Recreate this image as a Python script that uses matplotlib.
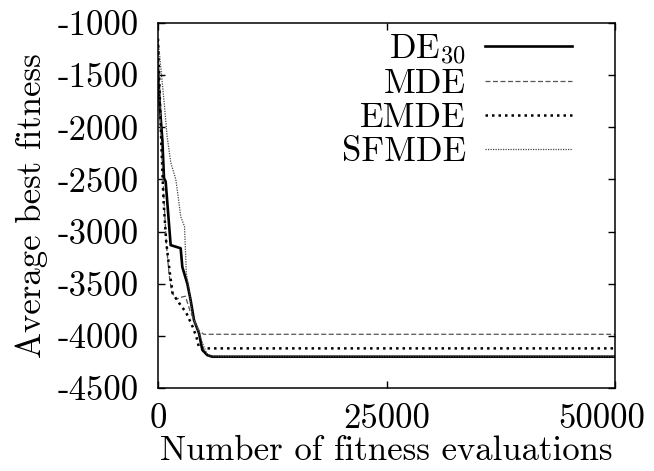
import matplotlib
matplotlib.use("Agg")
import matplotlib.pyplot as plt
import matplotlib.transforms as mtransforms

plt.rcParams['font.family'] = ['cmr10', 'DejaVu Serif']
plt.rcParams['mathtext.fontset'] = 'cm'
plt.rcParams['axes.unicode_minus'] = False
plt.rcParams['axes.formatter.use_mathtext'] = True

# Data
de30_x = [0, 200, 476, 656, 838, 1385, 2480, 2662, 3210, 3575, 3940, 4486, 4850, 5397, 5944, 50000]
de30_y = [-1450, -1800, -2120, -2490, -2520, -3130, -3160, -3340, -3500, -3660, -3850, -3975, -4135, -4185, -4200, -4200]

mde_x = [0, 300, 600, 900, 1200, 1500, 2000, 2500, 3000, 3500, 4000, 4500, 5000, 5500, 50000]
mde_y = [-1200, -2000, -2600, -3100, -3400, -3580, -3650, -3630, -3620, -3760, -3860, -3950, -3985, -3985, -3985]

emde_x = [0, 300, 600, 900, 1300, 1600, 2100, 2600, 3100, 3800, 4200, 4500, 5000, 50000]
emde_y = [-1150, -2000, -2700, -3100, -3400, -3590, -3660, -3720, -3780, -3915, -4010, -4116, -4120, -4120]

sfmde_x = [0, 650, 1000, 1400, 1950, 2500, 2900, 3100, 3400, 3800, 4500, 5000, 5400, 6000, 50000]
sfmde_y = [-1150, -1740, -2090, -2340, -2500, -2860, -2950, -3400, -3560, -3815, -3975, -4100, -4180, -4200, -4200]

series_labels = ['DE$_{30}$', 'MDE', 'EMDE', 'SFMDE']
x_ticks = [0, 25000, 50000]
x_tick_labels = ['0', '25000', '50000']
y_ticks = [-4500, -4000, -3500, -3000, -2500, -2000, -1500, -1000]
y_tick_labels = ['-4500', '-4000', '-3500', '-3000', '-2500', '-2000', '-1500', '-1000']

W, H = 654, 471
fig = plt.figure(figsize=(W / 100, H / 100), dpi=100)
ax = fig.add_axes([158 / W, (H - 388) / H, 457 / W, 365 / H])

fs = 25
ax.plot(de30_x, de30_y, color='black', lw=1.9, ls='-', label=series_labels[0])
ax.plot(mde_x, mde_y, color='#555555', lw=0.9, ls=(0, (4, 2)), label=series_labels[1])
ax.plot(emde_x, emde_y, color='black', lw=1.8, ls=(0, (1, 1.6)), label=series_labels[2])
ax.plot(sfmde_x, sfmde_y, color='#444444', lw=0.9, ls=(0, (1, 1)), label=series_labels[3])

ax.set_xlim(0, 50000)
ax.set_ylim(-4500, -1000)
ax.set_xticks(x_ticks)
ax.set_xticklabels(x_tick_labels)
ax.set_yticks(y_ticks)
ax.set_yticklabels(y_tick_labels)
ax.tick_params(direction='in', length=5, width=1, labelsize=fs, top=True, right=True)
ax.tick_params(axis='y', pad=14)
ax.tick_params(axis='x', pad=11)
for s in ax.spines.values():
    s.set_linewidth(1.1)

# shift last x tick label left so it stays inside the figure
lbls = ax.get_xticklabels()
lbls[-1].set_transform(lbls[-1].get_transform() +
                       mtransforms.ScaledTranslation(-0.13, 0, fig.dpi_scale_trans))

ax.set_xlabel('Number of fitness evaluations', fontsize=fs, labelpad=0)
ax.set_ylabel('Average best fitness', fontsize=fs, labelpad=7)

leg = ax.legend(loc='upper right', bbox_to_anchor=(0.925, 1.0), frameon=False,
                markerfirst=False, fontsize=fs,
                handlelength=2.5, labelspacing=0.06, handletextpad=0.55,
                borderaxespad=0.0, borderpad=0.25)
fig.savefig('out.png', dpi=100)
